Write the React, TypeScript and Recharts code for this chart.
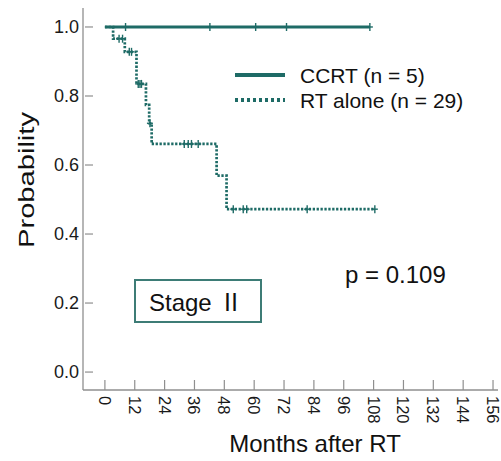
import React from "react";
import { LineChart, Line, XAxis, YAxis } from "recharts";

const ccrtTimes = [0, 8.3, 42.2, 60.6, 73.0, 106.5];
const ccrtSurv = [1, 1, 1, 1, 1, 1];
const ccrtCensored = [0, 1, 1, 1, 1, 1];

const rtTimes = [0, 3.3, 5.7, 7.1, 8.0, 9.8, 10.7, 12.7, 13.4, 14.1, 14.7, 16.5, 17.8, 18.1, 18.8, 31.9, 33.5, 34.8, 37.5, 44.9, 48.9, 51.6, 55.6, 57.0, 81.3, 108.5];
const rtSurv = [1, 0.966, 0.966, 0.966, 0.928, 0.928, 0.928, 0.835, 0.835, 0.835, 0.835, 0.774, 0.721, 0.721, 0.661, 0.661, 0.661, 0.661, 0.661, 0.569, 0.472, 0.472, 0.472, 0.472, 0.472, 0.472];
const rtCensored = [0, 0, 1, 1, 0, 1, 1, 0, 1, 1, 1, 0, 0, 1, 0, 1, 1, 1, 1, 0, 0, 1, 1, 1, 1, 1];

const xTicks = [0, 12, 24, 36, 48, 60, 72, 84, 96, 108, 120, 132, 144, 156];
const yTicks = [0, 0.2, 0.4, 0.6, 0.8, 1.0];

const seriesNames = ["CCRT (n = 5)", "RT alone (n = 29)"];
const pValueText = "p = 0.109";
const stageWord = "Stage";
const stageNumeral = "Ⅱ";
const xTitle = "Months after RT";
const yTitle = "Probability";

const ccrtData = ccrtTimes.map((t, i) => ({ t, s: ccrtSurv[i], c: ccrtCensored[i] }));
const rtData = rtTimes.map((t, i) => ({ t, s: rtSurv[i], c: rtCensored[i] }));

const TEAL = "#1e6b66";
const AXIS = "#8f8f8f";
const FONT = "'Liberation Sans', Arial, 'Noto Sans CJK JP', sans-serif";

const CensorDot = (props: any) => {
  const { cx, cy, payload, index } = props;
  if (!payload || !payload.c) return <g key={`d${index}`} />;
  return (
    <g key={`d${index}`}>
      <line x1={cx} y1={cy - 4} x2={cx} y2={cy + 4} stroke={TEAL} strokeWidth={1.4} />
      <line x1={cx - 3} y1={cy} x2={cx + 3} y2={cy} stroke={TEAL} strokeWidth={1.4} />
    </g>
  );
};

const XTick = (props: any) => {
  const { x, y, payload } = props;
  return (
    <g>
      <line x1={x} y1={y - 10} x2={x} y2={y} stroke={AXIS} strokeWidth={1.2} />
      <text
        transform={`translate(${x},${y + 6}) rotate(90)`}
        textAnchor="start"
        dominantBaseline="central"
        fontSize={16.5}
        fontFamily={FONT}
        fill="#1a1a1a"
      >
        {payload.value}
      </text>
    </g>
  );
};

const YTick = (props: any) => {
  const { x, y, payload } = props;
  return (
    <g>
      <line x1={x + 2} y1={y} x2={x + 10} y2={y} stroke={AXIS} strokeWidth={1.2} />
      <text
        x={x - 4}
        y={y}
        textAnchor="end"
        dominantBaseline="central"
        fontSize={18}
        fontFamily={FONT}
        fill="#1a1a1a"
      >
        {Number(payload.value).toFixed(1)}
      </text>
    </g>
  );
};

export default function App() {
  return (
    <div style={{ position: "absolute", left: 0, top: 0, width: 501, height: 461, background: "#fff" }}>
      <LineChart width={501} height={461} margin={{ top: 8, right: 3, bottom: 70, left: 82 }}>
        <XAxis
          type="number"
          dataKey="t"
          domain={[-8.8, 158]}
          ticks={xTicks}
          allowDataOverflow
          height={1}
          tickSize={0}
          tickMargin={0}
          tickLine={false}
          axisLine={{ stroke: AXIS, strokeWidth: 1.3 }}
          tick={<XTick />}
          interval={0}
        />
        <YAxis
          type="number"
          dataKey="s"
          domain={[-0.052, 1.055]}
          ticks={yTicks}
          allowDataOverflow
          width={1}
          tickSize={0}
          tickMargin={0}
          tickLine={false}
          axisLine={{ stroke: AXIS, strokeWidth: 1.3 }}
          tick={<YTick />}
          interval={0}
        />
        <Line
          data={ccrtData}
          dataKey="s"
          name={seriesNames[0]}
          type="stepAfter"
          stroke={TEAL}
          strokeWidth={3}
          dot={CensorDot}
          activeDot={false}
          isAnimationActive={false}
        />
        <Line
          data={rtData}
          dataKey="s"
          name={seriesNames[1]}
          type="stepAfter"
          stroke={TEAL}
          strokeWidth={2.7}
          strokeDasharray="2.3 1.6"
          dot={CensorDot}
          activeDot={false}
          isAnimationActive={false}
        />
      </LineChart>
      <svg
        width={501}
        height={461}
        style={{ position: "absolute", left: 0, top: 0, pointerEvents: "none" }}
      >
        <text
          transform="translate(34,180) rotate(-90)"
          textAnchor="middle"
          fontSize={22}
          fontFamily={FONT}
          fill="#111"
          textLength={136}
          lengthAdjust="spacingAndGlyphs"
        >
          {yTitle}
        </text>
        <text x={315} y={452} textAnchor="middle" fontSize={24} fontFamily={FONT} fill="#111">
          {xTitle}
        </text>
        <line x1={235} y1={75} x2={285} y2={75} stroke={TEAL} strokeWidth={4} />
        <line x1={235} y1={100} x2={285} y2={100} stroke={TEAL} strokeWidth={4} strokeDasharray="3 3" />
        <text x={300} y={75} dominantBaseline="central" fontSize={21} fontFamily={FONT} fill="#111">
          {seriesNames[0]}
        </text>
        <text x={300} y={100} dominantBaseline="central" fontSize={21} fontFamily={FONT} fill="#111">
          {seriesNames[1]}
        </text>
        <text x={345} y={283} fontSize={24} fontFamily={FONT} fill="#111">
          {pValueText}
        </text>
        <rect x={135} y={280} width={126} height={42} fill="none" stroke="#3d7c76" strokeWidth={2} />
        <text x={149} y={311} fontSize={24} fontFamily={FONT} fill="#111">
          {stageWord}
        </text>
        <text x={231} y={311} textAnchor="middle" fontSize={24} fontFamily="'Noto Sans CJK JP', sans-serif" fill="#111">
          {stageNumeral}
        </text>
      </svg>
    </div>
  );
}
